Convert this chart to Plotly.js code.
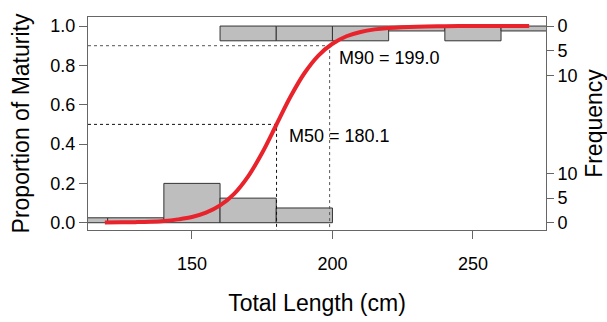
<!DOCTYPE html>
<html>
<head>
<meta charset="utf-8">
<script src="https://cdn.plot.ly/plotly-3.0.1.min.js"></script>
<style>
  html, body { margin: 0; padding: 0; background: #fff; }
  #chart { width: 607px; height: 322px; }
</style>
</head>
<body>
<div id="chart"></div>
<script>
// ---- data ----
const binWidth = 20;
const immatureBinStart = [100, 120, 140, 160, 180];
const immatureCounts   = [1, 1, 8, 5, 3];
const matureBinStart   = [160, 180, 200, 220, 240, 260];
const matureCounts     = [3, 3, 3, 1, 3, 1];

const curveLength = [119, 125, 130, 135, 140, 145, 150, 155, 160, 165, 170, 175, 180, 185, 190, 195, 200, 205, 210, 215, 220, 230, 240, 250, 260, 270];
const curveProp   = [0.001, 0.002, 0.003, 0.005, 0.009, 0.017, 0.029, 0.051, 0.088, 0.147, 0.236, 0.356, 0.497, 0.639, 0.760, 0.850, 0.910, 0.948, 0.970, 0.983, 0.990, 0.997, 0.999, 1.0, 1.0, 1.0];

const M50 = 180.1;
const M90 = 199.0;
const m50Label = "M50 = 180.1";
const m90Label = "M90 = 199.0";

const xTicks = [150, 200, 250];
const propTicks = [0, 0.2, 0.4, 0.6, 0.8, 1.0];
const freqTickVals = [0, 5, 10, 30, 35, 40];
const freqTickText = ["0", "5", "10", "10", "5", "0"];

// ---- layout constants ----
const xRange = [113, 276];
const propRange = [-0.037, 1.046];
const countsAtOne = 40;   // frequency axis: 40 counts span proportion 0..1
const countRange = propRange.map(v => v * countsAtOne);

const FONT = "Liberation Sans, Arial, Helvetica, sans-serif";
const AX = "#666";

const traces = [
  {
    type: "bar", x: immatureBinStart, y: immatureCounts, width: binWidth, offset: 0,
    marker: { color: "#bebebe", line: { color: "#333", width: 1 } },
    yaxis: "y", hoverinfo: "skip", showlegend: false
  },
  {
    type: "bar", x: matureBinStart, y: matureCounts.map(c => -c), base: countsAtOne,
    width: binWidth, offset: 0,
    marker: { color: "#bebebe", line: { color: "#333", width: 1 } },
    yaxis: "y", hoverinfo: "skip", showlegend: false
  },
  {
    type: "scatter", mode: "lines",
    x: [xRange[0], M50, M50], y: [0.5, 0.5, propRange[0]],
    line: { color: "#111", width: 1, dash: "dot" }, yaxis: "y2", showlegend: false
  },
  {
    type: "scatter", mode: "lines",
    x: [xRange[0], M90, M90], y: [0.9, 0.9, propRange[0]],
    line: { color: "#555", width: 1, dash: "dot" }, yaxis: "y2", showlegend: false
  },
  {
    type: "scatter", mode: "lines", x: curveLength, y: curveProp,
    line: { color: "#e8232b", width: 4, shape: "spline" }, yaxis: "y2", showlegend: false
  }
];

const layout = {
  width: 607, height: 322,
  margin: { l: 88, r: 61, t: 17, b: 92, pad: 0 },
  paper_bgcolor: "#fff", plot_bgcolor: "#fff",
  font: { family: FONT, color: "#000", size: 18 },
  barmode: "overlay",
  showlegend: false,
  xaxis: {
    range: xRange, tickvals: xTicks, ticks: "outside", ticklen: 8, tickcolor: AX,
    showline: true, linecolor: AX, linewidth: 1, mirror: true,
    showgrid: false, zeroline: false, tickfont: { size: 18 }, ticklabelstandoff: 9,
    title: { text: "Total Length (cm)", font: { size: 23 }, standoff: 22 }
  },
  yaxis: {
    range: countRange, side: "right", tickvals: freqTickVals, ticktext: freqTickText,
    ticks: "outside", ticklen: 7, tickcolor: AX,
    showline: true, linecolor: AX, linewidth: 1,
    showgrid: false, zeroline: false, tickfont: { size: 18 },
    title: { text: "Frequency", font: { size: 23 }, standoff: 10 }
  },
  yaxis2: {
    range: propRange, overlaying: "y", side: "left", tickvals: propTicks, tickformat: ".1f",
    ticks: "outside", ticklen: 8, tickcolor: AX,
    showline: true, linecolor: AX, linewidth: 1,
    showgrid: false, zeroline: false, tickfont: { size: 18 },
    title: { text: "Proportion of Maturity", font: { size: 23 }, standoff: 14 }
  },
  annotations: [
    { x: M50, y: 0.5, xref: "x", yref: "y2", text: m50Label, showarrow: false,
      xanchor: "left", yanchor: "middle", xshift: 10, yshift: -12, font: { size: 18 } },
    { x: M90, y: 0.9, xref: "x", yref: "y2", text: m90Label, showarrow: false,
      xanchor: "left", yanchor: "middle", xshift: 7, yshift: -12, font: { size: 18 } }
  ]
};

Plotly.newPlot("chart", traces, layout, { staticPlot: true, displayModeBar: false });
</script>
</body>
</html>
